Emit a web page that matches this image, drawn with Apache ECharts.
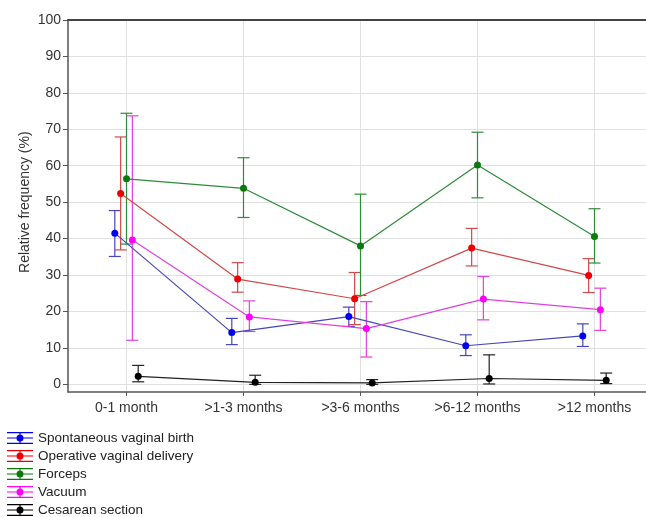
<!DOCTYPE html>
<html>
<head>
<meta charset="utf-8">
<script src="https://cdn.jsdelivr.net/npm/echarts@6/dist/echarts.min.js"></script>
<style>
html, body { margin: 0; padding: 0; background: #fff; }
#container { width: 646px; height: 517px; }
</style>
</head>
<body>
<div id="container"></div>
<script>
var categories = ['0-1 month', '>1-3 months', '>3-6 months', '>6-12 months', '>12 months'];
var seriesNames = ['Spontaneous vaginal birth', 'Operative vaginal delivery', 'Forceps', 'Vacuum', 'Cesarean section'];

// means and error bar ends (%)
var svbMean = [41.5, 14.2, 18.6, 10.6, 13.3];
var svbLow  = [35.1, 10.9, 15.9, 7.9, 10.4];
var svbHigh = [47.7, 18.1, 21.2, 13.6, 16.6];

var ovdMean = [52.4, 28.9, 23.5, 37.4, 29.9];
var ovdLow  = [36.9, 25.3, 16.4, 32.5, 25.2];
var ovdHigh = [67.9, 33.4, 30.7, 42.8, 34.5];

var forMean = [56.4, 53.8, 38.0, 60.2, 40.6];
var forLow  = [38.5, 45.8, 24.4, 51.2, 33.3];
var forHigh = [74.4, 62.2, 52.2, 69.2, 48.2];

var vacMean = [39.6, 18.5, 15.3, 23.4, 20.5];
var vacLow  = [12.1, 14.5, 7.5, 17.7, 14.8];
var vacHigh = [73.7, 22.9, 22.7, 29.6, 26.4];

var cesMean = [2.2, 0.55, 0.4, 1.6, 1.1];
var cesLow  = [0.7, 0.0, 0.0, 0.1, 0.2];
var cesHigh = [5.2, 2.5, 1.3, 8.1, 3.1];

var means = [svbMean, ovdMean, forMean, vacMean, cesMean];
var lows = [svbLow, ovdLow, forLow, vacLow, cesLow];
var highs = [svbHigh, ovdHigh, forHigh, vacHigh, cesHigh];

// styling
var dodge = [-0.1, -0.05, 0, 0.05, 0.1];
var markerColors = ['#0000ee', '#ee0000', '#0b7a0b', '#ff00ff', '#000000'];
var lineColors = ['#4646b8', '#d04a4a', '#2e8b3a', '#e040e0', '#222222'];

var legendIcon = 'path://M0,0h26v1.2h-26z M0,5.4h26v1.2h-26z M0,10.8h26v1.2h-26z M12.4,0h1.2v12h-1.2z M9.5,6a3.5,3.5 0 1,1 7,0a3.5,3.5 0 1,1 -7,0z';

function renderError(params, api) {
    var x = api.value(0);
    var top = api.coord([x, api.value(2)]);
    var bot = api.coord([x, api.value(1)]);
    var hw = 6;
    var style = { stroke: api.visual('color'), lineWidth: 1.2, fill: null };
    return {
        type: 'group',
        children: [
            { type: 'line', shape: { x1: top[0], y1: top[1], x2: bot[0], y2: bot[1] }, style: style },
            { type: 'line', shape: { x1: top[0] - hw, y1: top[1], x2: top[0] + hw, y2: top[1] }, style: style },
            { type: 'line', shape: { x1: bot[0] - hw, y1: bot[1], x2: bot[0] + hw, y2: bot[1] }, style: style }
        ]
    };
}

var series = [];
for (var s = 0; s < seriesNames.length; s++) {
    var lineData = [];
    var errData = [];
    for (var i = 0; i < categories.length; i++) {
        lineData.push([i + dodge[s], means[s][i]]);
        errData.push([i + dodge[s], lows[s][i], highs[s][i]]);
    }
    series.push({
        name: seriesNames[s] + ' err',
        type: 'custom',
        xAxisIndex: 1,
        yAxisIndex: 0,
        renderItem: renderError,
        itemStyle: { color: lineColors[s] },
        encode: { x: 0, y: [1, 2] },
        data: errData,
        silent: true,
        z: 2
    });
    series.push({
        name: seriesNames[s],
        type: 'line',
        xAxisIndex: 1,
        yAxisIndex: 0,
        data: lineData,
        symbol: 'circle',
        symbolSize: 7,
        itemStyle: { color: markerColors[s] },
        lineStyle: { color: lineColors[s], width: 1.2 },
        silent: true,
        z: 3
    });
}

var dom = document.getElementById('container');
var myChart = echarts.init(dom);
var option = {
    animation: false,
    backgroundColor: '#fff',
    textStyle: { fontFamily: 'Liberation Sans, Arial, sans-serif' },
    grid: [
        { left: 68, width: 585, top: 20, height: 372, containLabel: false, outerBoundsMode: 'none' },
        { left: 68, width: 585, top: 20, height: 364.35, containLabel: false, outerBoundsMode: 'none' }
    ],
    legend: {
        orient: 'vertical',
        left: 7,
        top: 431,
        height: 120,
        padding: 0,
        itemWidth: 26,
        itemHeight: 12,
        itemGap: 4,
        icon: legendIcon,
        data: seriesNames,
        textStyle: { fontSize: 13.5, color: '#222' },
        selectedMode: false
    },
    xAxis: [
        {
            type: 'category',
            gridIndex: 0,
            data: categories,
            boundaryGap: true,
            axisLine: { show: true, onZero: false, lineStyle: { color: '#555', width: 1.5 } },
            axisTick: { show: true, alignWithLabel: true, length: 4, lineStyle: { color: '#555' } },
            axisLabel: { fontSize: 14, color: '#333', margin: 9 },
            splitLine: { show: true, alignWithLabel: true, lineStyle: { color: '#e0e0e0' } }
        },
        { type: 'value', gridIndex: 0, min: -0.5, max: 4.5, show: false },
        { type: 'value', gridIndex: 1, min: 0, max: 1, show: false },
        {
            type: 'value',
            gridIndex: 0,
            position: 'top',
            min: 0,
            max: 1,
            z: 10,
            axisLine: { show: true, onZero: false, lineStyle: { color: '#444', width: 2 } },
            axisTick: { show: false },
            axisLabel: { show: false },
            splitLine: { show: false }
        }
    ],
    yAxis: [
        {
            type: 'value',
            gridIndex: 0,
            min: -2.1,
            max: 100,
            axisLine: { show: true, onZero: false, lineStyle: { color: '#555', width: 1.5 } },
            axisTick: { show: false },
            axisLabel: { show: false },
            splitLine: { show: false }
        },
        {
            type: 'value',
            gridIndex: 1,
            min: 0,
            max: 100,
            interval: 10,
            name: 'Relative frequency (%)',
            nameLocation: 'middle',
            nameGap: 36,
            nameMoveOverlap: false,
            nameTextStyle: { fontSize: 14, color: '#333' },
            axisLine: { show: false },
            axisTick: { show: true, length: 5, lineStyle: { color: '#555' } },
            axisLabel: { fontSize: 14, color: '#333', margin: 7 },
            splitLine: { show: true, lineStyle: { color: '#e0e0e0' } }
        }
    ],
    series: series
};

if (option && typeof option === 'object') {
    myChart.setOption(option, true);
}
</script>
</body>
</html>
